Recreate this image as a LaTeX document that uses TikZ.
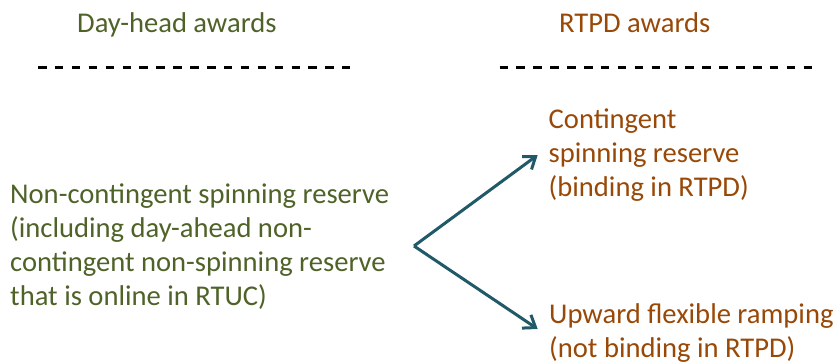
\documentclass[tikz,border=0pt]{standalone}
\usepackage{fontspec}
\setmainfont{Carlito}
\usetikzlibrary{arrows.meta}
\definecolor{dagreen}{RGB}{79,98,40}
\definecolor{rtorange}{RGB}{152,72,7}
\definecolor{arrteal}{RGB}{33,89,104}
\tikzset{
  txt/.style={inner sep=0pt, anchor=base west, align=left, font=\fontsize{28.6}{34}\selectfont},
  sep/.style={line width=2.5pt, dash pattern=on 8.5pt off 8.4pt, black},
  link/.style={line width=3pt, arrteal, line join=miter, -{Straight Barb[length=11pt,width=16pt]}}
}
\begin{document}
\begin{tikzpicture}[x=1pt,y=1pt]
\useasboundingbox (0,0) rectangle (840,362);
\node[txt, text=dagreen] (titleL) at (77,329) {Day-head awards};
\node[txt, text=rtorange] (titleR) at (559,329) {RTPD awards};
\coordinate (dlA) at (38,294.7);
\coordinate (dlB) at (350,294.7);
\coordinate (drA) at (499.5,294.7);
\coordinate (drB) at (812,294.7);
\draw[sep] (dlA) -- (dlB);
\draw[sep] (drA) -- (drB);
% base anchor of a multi-line node is the baseline of its last line
\node[txt, text=dagreen] (left) at (10,57) {Non-contingent spinning reserve\\(including day-ahead non-\\contingent non-spinning reserve\\that is online in RTUC)};
\node[txt, text=rtorange] (cont) at (548.5,166) {Contingent\\spinning reserve\\(binding in RTPD)};
\node[txt, text=rtorange] (upw) at (549,5) {Upward flexible ramping\\(not binding in RTPD)};
\coordinate (v) at (414,116);
\coordinate (t1) at (537.7,207);
\coordinate (t2) at (537.7,33);
\draw[link] (v) -- (t1);
\draw[link] (v) -- (t2);
\end{tikzpicture}
\end{document}
